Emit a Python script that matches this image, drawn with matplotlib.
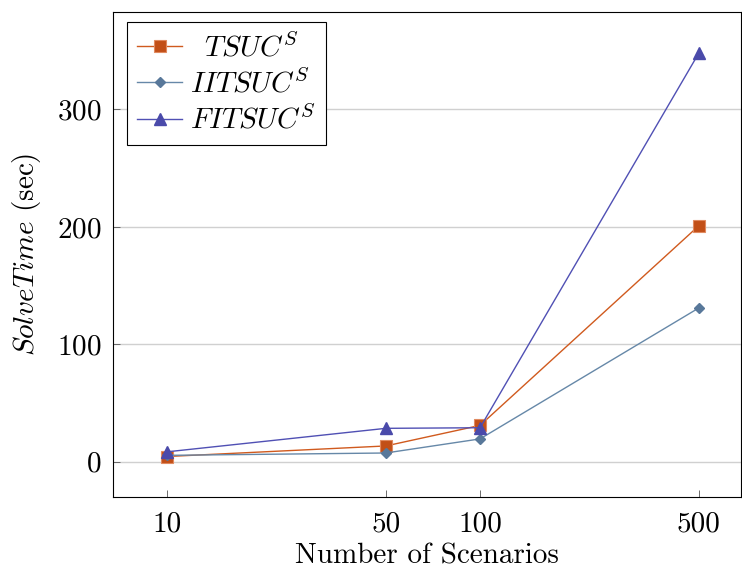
import matplotlib
matplotlib.use("Agg")
import matplotlib.pyplot as plt

# font similar to the LaTeX/pgfplots look
plt.rcParams['font.family'] = 'cmr10'
plt.rcParams['mathtext.fontset'] = 'cm'
plt.rcParams['axes.formatter.use_mathtext'] = True

scenarios = [10, 50, 100, 500]
tsuc = [4.5, 13.5, 31, 201]
iitsuc = [5.5, 7.5, 19.5, 131]
fitsuc = [8.5, 28.5, 29, 348]

FS = 21

fig = plt.figure(figsize=(7.42, 5.70), dpi=100)
ax = fig.add_axes([0.1523, 0.128, 0.8464, 0.851])

# leading spaces mimic the centred legend text of pgfplots
ax.plot(scenarios, tsuc, color='#D05A1E', lw=1, marker='s', ms=8,
        mfc='#C24F17', mec='#E08A60', mew=0.8, label=r'$\;\;TSUC^S$')
ax.plot(scenarios, iitsuc, color='#6688A8', lw=1, marker='D', ms=5.5,
        mfc='#58789A', mec='#58789A', label=r'$IITSUC^S$')
ax.plot(scenarios, fitsuc, color='#5050B4', lw=1, marker='^', ms=8,
        mfc='#4A4AAA', mec='#4A4AAA', label=r'$FITSUC^S$')

ax.set_xscale('log')
ax.set_xlim(6.72, 682)
ax.set_ylim(-30, 383)
ax.set_xticks(scenarios)
ax.set_xticklabels([str(s) for s in scenarios])
ax.minorticks_off()
ax.set_yticks([0, 100, 200, 300])
ax.yaxis.grid(True, color='#d0d0d0', lw=1)
ax.set_axisbelow(True)
ax.tick_params(direction='in', labelsize=FS, length=5, width=0.6, color='#555555')
ax.tick_params(axis='x', pad=10)
ax.tick_params(axis='y', pad=8)
for s in ax.spines.values():
    s.set_linewidth(0.8)

ax.set_xlabel('Number of Scenarios', fontsize=FS, labelpad=4)
ax.set_ylabel(r'$SolveTime$ (sec)', fontsize=FS, labelpad=10)

leg = ax.legend(loc='upper left', fontsize=FS, fancybox=False, framealpha=1,
                edgecolor='black', borderpad=0.35, handlelength=1.55,
                handletextpad=0.25, labelspacing=0.22, borderaxespad=0,
                bbox_to_anchor=(0.0223, 0.979))
leg.get_frame().set_linewidth(0.8)

fig.savefig('out.png', dpi=100)
